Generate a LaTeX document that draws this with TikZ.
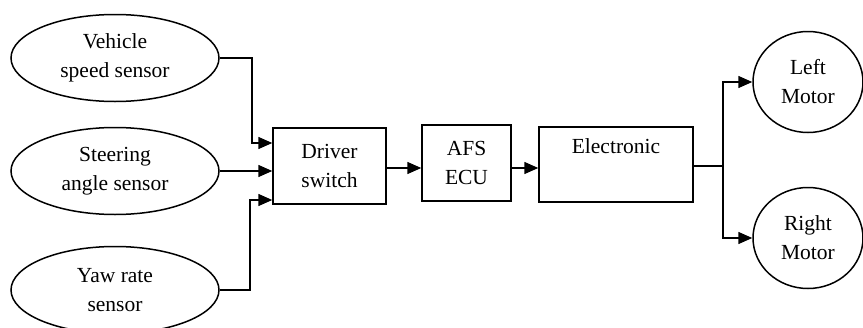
\documentclass[tikz,border=0pt]{standalone}
\usepackage{fontspec}
\setmainfont{Liberation Serif}
\usetikzlibrary{shapes.geometric,arrows.meta}
\begin{document}
\begin{tikzpicture}[x=1pt,y=-1pt,
  every node/.style={font=\fontsize{21.5}{29}\selectfont, align=center, inner sep=0pt},
  sensor/.style={draw, ellipse, line width=1.5pt, minimum width=208pt, minimum height=87pt},
  motor/.style={draw, ellipse, line width=1.5pt, minimum width=110pt, minimum height=101pt},
  blk/.style={draw, rectangle, line width=1.5pt},
  conn/.style={line width=1.5pt},
  arr/.style={conn, -{Triangle[length=14pt,width=12pt]}}]
\useasboundingbox (0,0) rectangle (863,327);
\node[sensor] (v1) at (115,58) {Vehicle\\speed sensor};
\node[sensor] (v2) at (115,171) {Steering\\angle sensor};
\node[sensor] (v3) at (115,290) {Yaw rate\\sensor};
\node[blk, minimum width=113pt, minimum height=76pt] (ds) at (329.5,166) {Driver\\switch};
\node[blk, minimum width=89pt, minimum height=76pt] (afs) at (466.5,163) {AFS\\ECU};
\node[blk, minimum width=154pt, minimum height=75pt] (el) at (616,164.5) {Electronic\\\strut};
\node[motor] (lm) at (808,82) {Left\\Motor};
\node[motor] (rm) at (808,238) {Right\\Motor};
\coordinate (j1) at (252,143);
\coordinate (j3) at (250,200);
\coordinate (a1) at (400,168);
\coordinate (a2) at (520,168);
\coordinate (jn) at (723,166);
\draw[arr] (v1.east) -| (j1) -- (j1 -| ds.west);
\draw[arr] (v2.east) -- (v2.east -| ds.west);
\draw[arr] (v3.east) -| (j3) -- (j3 -| ds.west);
\draw[arr] (a1 -| ds.east) -- (a1 -| afs.west);
\draw[arr] (a2 -| afs.east) -- (a2 -| el.west);
\draw[conn] (jn -| el.east) -- (jn);
\draw[arr] (jn) |- (lm.west);
\draw[arr] (jn) |- (rm.west);
\end{tikzpicture}
\end{document}
